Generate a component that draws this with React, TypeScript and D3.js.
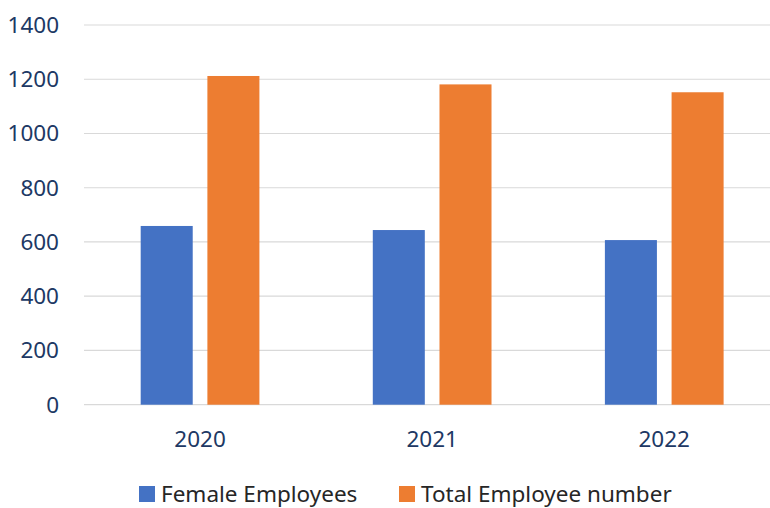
import React, { useEffect, useRef } from 'react';
import * as d3 from 'd3';

const years = ['2020', '2021', '2022'];
const seriesNames = ['Female Employees', 'Total Employee number'];
const femaleEmployees = [659, 644, 607];
const totalEmployees = [1212, 1181, 1152];
const yTicks = [0, 200, 400, 600, 800, 1000, 1200, 1400];
const colors = ['#4472C4', '#ED7D31'];

const width = 770;
const height = 508;
const font = '"Segoe UI", "Noto Sans", "Open Sans", sans-serif';

const createChart = (container: SVGSVGElement) => {
    d3.select(container).selectAll('*').remove();

    const svg = d3.select(container)
        .attr('width', width)
        .attr('height', height)
        .style('position', 'absolute')
        .style('left', 0)
        .style('top', 0)
        .style('font-family', font);

    svg.append('rect').attr('width', width).attr('height', height).attr('fill', '#fff');

    const y = d3.scaleLinear().domain([0, 1400]).range([404.7, 25]);
    const x0 = d3.scaleBand().domain(years).range([84, 780.3]).padding(0);
    const x1 = d3.scaleBand().domain(seriesNames).range([0, x0.bandwidth()])
        .paddingInner(0.22).paddingOuter(0.85);

    // gridlines
    svg.append('g')
        .selectAll('line')
        .data(yTicks)
        .enter().append('line')
        .attr('x1', 84)
        .attr('x2', width)
        .attr('y1', d => y(d))
        .attr('y2', d => y(d))
        .attr('stroke', '#d9d9d9')
        .attr('stroke-width', 1.2);

    // y labels
    svg.append('g')
        .selectAll('text')
        .data(yTicks)
        .enter().append('text')
        .attr('x', 59)
        .attr('y', d => y(d))
        .attr('dy', '0.355em')
        .attr('text-anchor', 'end')
        .attr('fill', '#203864')
        .style('font-size', '22.5px')
        .text(d => d);

    const rows = years.map((yr, i) => ({ year: yr, values: [femaleEmployees[i], totalEmployees[i]] }));

    const groups = svg.append('g')
        .selectAll('g')
        .data(rows)
        .enter().append('g')
        .attr('transform', d => `translate(${x0(d.year)},0)`);

    groups.selectAll('rect')
        .data(d => d.values.map((v, i) => ({ name: seriesNames[i], value: v, i })))
        .enter().append('rect')
        .attr('x', d => x1(d.name)!)
        .attr('width', x1.bandwidth())
        .attr('y', d => y(d.value))
        .attr('height', d => y(0) - y(d.value))
        .attr('fill', d => colors[d.i]);

    // x labels
    svg.append('g')
        .selectAll('text')
        .data(years)
        .enter().append('text')
        .attr('x', d => x0(d)! + x0.bandwidth() / 2)
        .attr('y', 447)
        .attr('text-anchor', 'middle')
        .attr('fill', '#203864')
        .style('font-size', '22.5px')
        .text(d => d);

    // legend
    const legendX = [139, 399];
    const legend = svg.append('g')
        .selectAll('g')
        .data(seriesNames)
        .enter().append('g')
        .attr('transform', (d, i) => `translate(${legendX[i]},486)`);

    legend.append('rect')
        .attr('width', 16)
        .attr('height', 16)
        .attr('fill', (d, i) => colors[i]);

    legend.append('text')
        .attr('x', 22)
        .attr('y', 16)
        .attr('fill', '#262626')
        .style('font-size', '22.5px')
        .text(d => d);
};

const App = () => {
    const ref = useRef<SVGSVGElement>(null);

    useEffect(() => {
        if (ref.current) {
            createChart(ref.current);
        }
    }, []);

    return (
        <div>
            <svg ref={ref} />
        </div>
    );
};

export default App;
